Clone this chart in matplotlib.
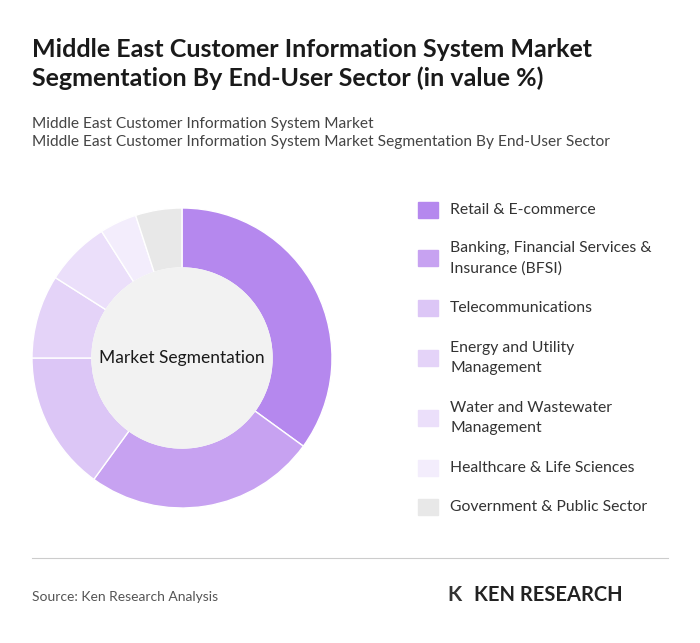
import matplotlib
matplotlib.use("Agg")
import matplotlib.pyplot as plt
from matplotlib.patches import Circle, Rectangle

labels = ["Retail & E-commerce", "Banking, Financial Services &\nInsurance (BFSI)", "Telecommunications",
          "Energy and Utility\nManagement", "Water and Wastewater\nManagement", "Healthcare & Life Sciences",
          "Government & Public Sector"]
values = [35, 25, 15, 9, 7, 4, 5]
colors = ["#b588ee", "#c7a2f1", "#dcc6f6", "#e4d3f8", "#ebdffa", "#f3edfc", "#e8e8e8"]

plt.rcParams['font.family'] = ['Lato', 'DejaVu Sans']
fig = plt.figure(figsize=(7, 6.43), dpi=100)
W, H = 700, 643
def fx(x): return x / W
def fy(y): return 1 - y / H

fig.text(fx(32), fy(64), "Middle East Customer Information System Market\nSegmentation By End-User Sector (in value %)",
         fontsize=18, fontweight='bold', color='#1a1a1a', va='center', linespacing=1.3)
fig.text(fx(32), fy(133), "Middle East Customer Information System Market\nMiddle East Customer Information System Market Segmentation By End-User Sector",
         fontsize=11.2, color='#444444', va='center', linespacing=1.45)

ax = fig.add_axes([fx(32), fy(508), 300 / W, 300 / H])
ax.pie(values, colors=colors, startangle=90, counterclock=False, radius=1,
       wedgeprops=dict(width=0.4, edgecolor='white', linewidth=1))
ax.add_patch(Circle((0, 0), 0.6, color='#f2f2f2', zorder=5))
ax.text(0, 0, "Market Segmentation", ha='center', va='center', fontsize=12.5, color='#1a1a1a', zorder=6)
ax.set_xlim(-1, 1); ax.set_ylim(-1, 1)
ax.set_aspect('equal')

ys = [210, 258, 308, 358, 418, 468, 507]
for lab, c, y in zip(labels, colors, ys):
    fig.patches.append(Rectangle((fx(418), fy(y) - 8 / H), 20 / W, 16 / H, color=c, transform=fig.transFigure))
    fig.text(fx(450), fy(y), lab, fontsize=11.3, color='#333333', va='center', linespacing=1.55)

fig.add_artist(plt.Line2D([fx(32), fx(668)], [fy(558), fy(558)], color='#cccccc', lw=0.8))
fig.text(fx(32), fy(597), "Source: Ken Research Analysis", fontsize=10, color='#555555', va='center')
fig.text(fx(447), fy(595), "K", fontsize=15, fontweight='bold', color='#333333', va='center')
fig.text(fx(474), fy(595), "KEN RESEARCH", fontsize=14.5, fontweight='bold', color='#222222', va='center')
fig.savefig("out.png", dpi=100, facecolor='white')
